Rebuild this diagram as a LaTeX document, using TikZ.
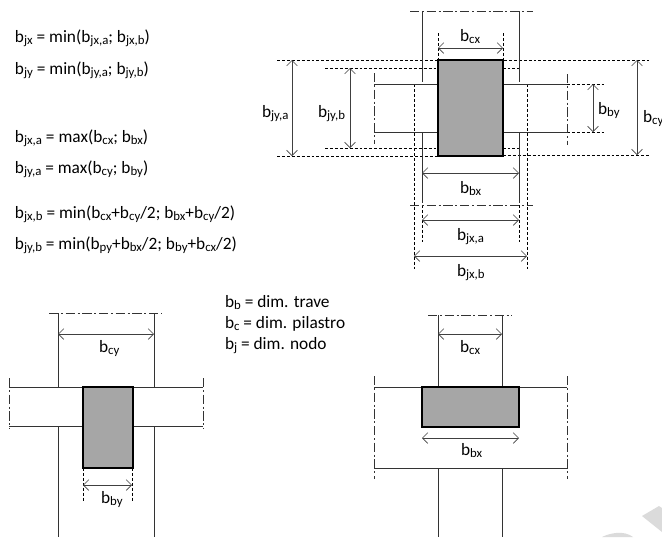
\documentclass[tikz,border=0pt]{standalone}
\usepackage{fontspec}
\setmainfont{Carlito}
\usetikzlibrary{arrows.meta}
\newcommand{\bs}[1]{b\raisebox{-2.2pt}{\fontsize{9.6pt}{10pt}\selectfont #1}}
\tikzset{
 x=0.75pt,y=-0.75pt,
 every node/.style={inner sep=0pt,outer sep=0pt,font=\fontsize{13pt}{15pt}\selectfont},
 txt/.style={anchor=base west},
 lab/.style={anchor=center},
 solidline/.style={draw=black!80,line width=0.75pt},
 dashline/.style={draw=black,line width=0.5pt,dash pattern=on 2.2pt off 1.5pt},
 centerline/.style={draw=black!80,line width=0.5pt,dash pattern=on 7pt off 2pt on 1.5pt off 2pt},
 dim/.style={draw=black!75,line width=0.6pt,{Straight Barb[length=4pt,width=8pt,line width=0.5pt]}-{Straight Barb[length=4pt,width=8pt,line width=0.5pt]}},
 core/.style={draw=black,line width=1.5pt,fill=black!35}
}
\begin{document}
\begin{tikzpicture}
\useasboundingbox (0,0) rectangle (662,537);
% watermark
\fill[black!14] (642,516) -- (659,506) -- (662,508) -- (662,532) -- cycle;
\fill[black!14] (602,537) .. controls (610,533) and (624,530) .. (633,537) -- cycle;
% formulas
\node[txt] (f1) at (15,42) {\bs{jx} = min(\bs{jx,a}; \bs{jx,b})};
\node[txt] (f2) at (15,74) {\bs{jy} = min(\bs{jy,a}; \bs{jy,b})};
\node[txt] (f3) at (15,142) {\bs{jx,a} = max(\bs{cx}; \bs{bx})};
\node[txt] (f4) at (15,173) {\bs{jy,a} = max(\bs{cy}; \bs{by})};
\node[txt] (f5) at (15,218) {\bs{jx,b} = min(\bs{cx}+\bs{cy}/2; \bs{bx}+\bs{cy}/2)};
\node[txt] (f6) at (15,249) {\bs{jy,b} = min(\bs{py}+\bs{bx}/2; \bs{by}+\bs{cx}/2)};
\node[txt] (l1) at (225,307) {\bs{b} = dim. trave};
\node[txt] (l2) at (225,328) {\bs{c} = dim. pilastro};
\node[txt] (l3) at (225,349) {\bs{j} = dim. nodo};
% TOP
\draw[dashline] (277,60) -- (649,60);
\draw[dashline] (277,156) -- (438,156);
\draw[dashline] (503,155) -- (649,155);
\draw[dashline] (325,68) -- (519,68);
\draw[dashline] (325,148) -- (519,148);
\draw[dashline] (438,33) -- (438,60);
\draw[dashline] (503,33) -- (503,60);
\draw[dashline] (414,84) -- (414,270);
\draw[dashline] (527,84) -- (527,270);
\draw[dashline] (422,205) -- (422,243);
\draw[dashline] (519,205) -- (519,243);
\draw[dashline] (567,84) -- (605,84);
\draw[dashline] (567,132) -- (605,132);
\draw[centerline] (410,11) -- (533,11);
\draw[centerline] (410,205) -- (533,205);
\draw[centerline] (374,73) -- (374,144);
\draw[centerline] (567,74) -- (567,145);
\draw[solidline] (422,11) -- (422,82);
\draw[solidline] (519,11) -- (519,82);
\draw[solidline] (422,132) -- (422,203);
\draw[solidline] (519,132) -- (519,203);
\draw[solidline] (374,84) -- (438,84);
\draw[solidline] (503,84) -- (567,84);
\draw[solidline] (374,132) -- (438,132);
\draw[solidline] (503,132) -- (567,132);
\node[core,minimum width=48.75pt,minimum height=72pt,anchor=north west] (topcore) at (438,60) {};
\draw[dim] (438,48) -- (503,48);
\draw[dim] (292,60) -- (292,156);
\draw[dim] (350,68) -- (350,148);
\draw[dim] (593,84) -- (593,132);
\draw[dim] (637,60) -- (637,155);
\draw[dim] (422,173) -- (519,173);
\draw[dim] (422,220) -- (519,220);
\draw[dim] (414,256) -- (527,256);
\node[txt] (tcx) at (460,41) {\bs{cx}};
\node[txt] (tjya) at (262,117) {\bs{jy,a}};
\node[txt] (tjyb) at (318,117) {\bs{jy,b}};
\node[txt] (tby) at (598,114) {\bs{by}};
\node[txt] (tcy) at (643,122) {\bs{cy}};
\node[txt] (tbx) at (460,193) {\bs{bx}};
\node[txt] (tjxa) at (457,240) {\bs{jx,a}};
\node[txt] (tjxb) at (457,276) {\bs{jx,b}};
% BOTTOM LEFT
\draw[centerline] (49,313) -- (162,313);
\draw[centerline] (9,378) -- (9,429);
\draw[centerline] (203,378) -- (203,429);
\draw[solidline] (58,313) -- (58,387);
\draw[solidline] (154,313) -- (154,387);
\draw[solidline] (58,426) -- (58,537);
\draw[solidline] (154,426) -- (154,537);
\draw[solidline] (9,387) -- (83,387);
\draw[solidline] (133,387) -- (203,387);
\draw[solidline] (9,426) -- (83,426);
\draw[solidline] (133,426) -- (203,426);
\node[core,minimum width=37.5pt,minimum height=60.75pt,anchor=north west] (blcore) at (83,387) {};
\draw[dashline] (83,468) -- (83,501);
\draw[dashline] (132,468) -- (132,501);
\draw[dim] (58,334) -- (154,334);
\draw[dim] (83,485) -- (132,485);
\node[txt] (lcy) at (99,352) {\bs{cy}};
\node[txt] (lby) at (101,503) {\bs{by}};
% BOTTOM RIGHT
\draw[centerline] (428,315) -- (512,315);
\draw[centerline] (374,376) -- (374,479);
\draw[centerline] (567,376) -- (567,479);
\draw[solidline] (438,315) -- (438,387);
\draw[solidline] (502,315) -- (502,387);
\draw[solidline] (438,468) -- (438,537);
\draw[solidline] (502,468) -- (502,537);
\draw[solidline] (374,387) -- (422,387);
\draw[solidline] (519,387) -- (567,387);
\draw[solidline] (374,468) -- (567,468);
\node[core,minimum width=72.75pt,minimum height=30pt,anchor=north west] (brcore) at (422,387) {};
\draw[dim] (438,334) -- (502,334);
\draw[dim] (422,438) -- (519,438);
\node[txt] (rcx) at (460,352) {\bs{cx}};
\node[txt] (rbx) at (461,455) {\bs{bx}};
\end{tikzpicture}
\end{document}
